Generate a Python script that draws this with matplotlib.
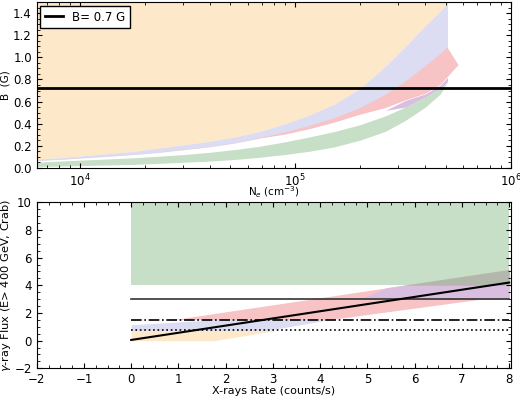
import numpy as np
import matplotlib.pyplot as plt
from matplotlib.ticker import AutoMinorLocator, MultipleLocator

# ---- top panel: B vs electron density ----
ne = [6.3e3, 8.07e3, 1.05e4, 1.38e4, 1.80e4, 2.36e4, 3.08e4, 4.02e4, 5.26e4, 6.87e4,
      8.98e4, 1.17e5, 1.53e5, 2.00e5, 2.62e5, 3.25e5, 4.02e5, 4.72e5, 5.09e5]
b_orange_low = [0.08, 0.09, 0.11, 0.13, 0.15, 0.18, 0.21, 0.24, 0.28, 0.33,
                0.40, 0.48, 0.58, 0.72, 0.92, 1.10, 1.29, 1.42, 1.50]
b_lav_low = [0.065, 0.075, 0.09, 0.105, 0.12, 0.14, 0.165, 0.19, 0.225, 0.27,
             0.32, 0.38, 0.45, 0.54, 0.66, 0.78, 0.92, 1.03, 1.09]
b_pink_low = [0.063, 0.073, 0.088, 0.103, 0.118, 0.138, 0.163, 0.188, 0.222, 0.265,
              0.30, 0.35, 0.41, 0.48, 0.54, 0.61, 0.67, 0.75, 0.82]
b_green_hi = [0.05, 0.06, 0.07, 0.08, 0.09, 0.105, 0.12, 0.14, 0.165, 0.195,
              0.235, 0.28, 0.33, 0.39, 0.47, 0.55, 0.64, 0.72, 0.78]
b_green_lo = [0.01, 0.015, 0.02, 0.025, 0.03, 0.04, 0.05, 0.06, 0.075, 0.095,
              0.12, 0.15, 0.19, 0.25, 0.33, 0.43, 0.55, 0.67, 0.78]
purple_ne = [2.62e5, 3.25e5, 4.02e5, 4.72e5, 5.09e5]
b_purple_lo = [0.52, 0.55, 0.64, 0.72, 0.78]
b_purple_hi = [0.52, 0.61, 0.67, 0.75, 0.82]
pink_tip_ne, pink_tip_b = 5.73e5, 0.93
b_max = 1.5
b_fixed = 0.72

# ---- bottom panel: gamma-ray flux vs X-ray rate ----
xr = [0.0, 8.0]
flux_fit = [0.05, 4.2]
green_box = (0.0, 8.0, 4.0, 10.0)
flux_solid, flux_dashdot, flux_dotted = 3.0, 1.52, 0.75

orange_x = [0.0, 1.76, 3.1]
orange_lo = [0.0, 0.0, 0.75]
lav_x = [0.0, 1.8, 2.9, 4.2]
lav_hi = [1.15, 1.52, 1.52, 1.52]
lav_lo = [0.75, 0.75, 0.75, 1.52]
pink_x = [0.95, 4.2, 7.4, 8.0]
pink_hi = [1.55, 3.2, 4.85, 5.15]
pink_lo = [1.52, 1.52, 3.0, 3.0]
purple_x = [4.85, 5.4, 5.75, 8.0]
purple_hi = [3.0, 3.82, 4.0, 4.0]
gray_x = [5.75, 8.0]
gray_hi = [4.0, 5.15]

c_orange, c_lav, c_pink = '#fde9c9', '#dcdcf2', '#f7c3c5'
c_green, c_purple, c_gray = '#c6dfc6', '#d9bedf', '#b3b8ac'

plt.rcParams['font.size'] = 8.5
plt.rcParams['xtick.direction'] = 'in'
plt.rcParams['ytick.direction'] = 'in'
plt.rcParams['xtick.top'] = True
plt.rcParams['ytick.right'] = True

fig = plt.figure(figsize=(5.2, 3.97), dpi=100)
ax1 = fig.add_axes([0.0706, 0.5776, 0.9114, 0.4166])
ax2 = fig.add_axes([0.0706, 0.0723, 0.9114, 0.4181])

ax1.fill_between(ne, b_orange_low, b_max, color=c_orange, lw=0)
ax1.fill_between(ne, b_lav_low, b_orange_low, color=c_lav, lw=0)
pink_poly_x = ne + [pink_tip_ne] + ne[::-1]
pink_poly_y = b_lav_low + [pink_tip_b] + b_pink_low[::-1]
ax1.fill(pink_poly_x, pink_poly_y, color=c_pink, lw=0)
ax1.fill_between(purple_ne, b_purple_lo, b_purple_hi, color=c_purple, lw=0)
ax1.fill_between(ne, b_green_lo, b_green_hi, color=c_green, lw=0)
ax1.axhline(b_fixed, color='k', lw=2, label='B= 0.7 G')

ax1.set_xscale('log')
ax1.set_xlim(6.3e3, 1e6)
ax1.set_ylim(0, b_max)
ax1.yaxis.set_major_locator(MultipleLocator(0.2))
ax1.yaxis.set_minor_locator(MultipleLocator(0.05))
ax1.set_xlabel(r'N$_e$ (cm$^{-3}$)', fontsize=7.5, labelpad=-3)
ax1.set_ylabel('B  (G)', fontsize=7.5, labelpad=2)
ax1.legend(loc='upper left', fancybox=False, framealpha=1, edgecolor='k',
           fontsize=8.5, handlelength=1.5, borderaxespad=0.3)

x0, x1, y0, y1 = green_box
ax2.fill_between([x0, x1], y0, y1, color=c_green, lw=0)
ax2.fill_between(orange_x, orange_lo, flux_dotted, color=c_orange, lw=0)
ax2.fill_between(lav_x, lav_lo, lav_hi, color=c_lav, lw=0)
ax2.fill_between(pink_x, pink_lo, pink_hi, color=c_pink, lw=0)
ax2.fill_between(purple_x, flux_solid, purple_hi, color=c_purple, lw=0)
ax2.fill_between(gray_x, green_box[2], gray_hi, color=c_gray, lw=0)
ax2.plot(xr, [flux_solid, flux_solid], color='#333333', lw=1.2)
ax2.plot(xr, [flux_dashdot, flux_dashdot], color='k', lw=1.2, ls='-.')
ax2.plot(xr, [flux_dotted, flux_dotted], color='k', lw=1.2, ls=':')
ax2.plot(xr, flux_fit, color='k', lw=1.5)

ax2.set_xlim(-2, 8.03)
ax2.set_ylim(-2, 10)
ax2.xaxis.set_major_locator(MultipleLocator(1))
ax2.xaxis.set_minor_locator(AutoMinorLocator(4))
ax2.yaxis.set_major_locator(MultipleLocator(2))
ax2.yaxis.set_minor_locator(AutoMinorLocator(4))
ax2.set_xlabel('X-rays Rate (counts/s)', fontsize=8, labelpad=0)
ax2.set_ylabel(r'$\gamma$-ray Flux (E> 400 GeV, Crab)', fontsize=8.2, labelpad=1)

fig.savefig('out.png', dpi=100)
